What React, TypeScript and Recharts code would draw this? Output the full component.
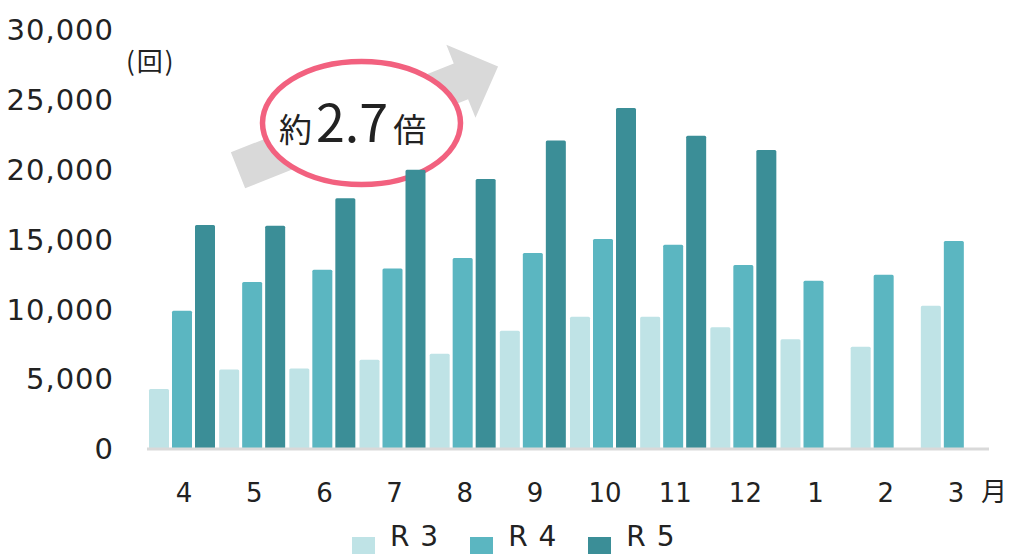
import React from 'react';
import { BarChart, Bar, XAxis, YAxis } from 'recharts';

const months = ['4', '5', '6', '7', '8', '9', '10', '11', '12', '1', '2', '3'];
const r3 = [4300, 5700, 5770, 6390, 6820, 8470, 9470, 9470, 8710, 7850, 7320, 10260];
const r4 = [9900, 11950, 12830, 12930, 13670, 14030, 15030, 14620, 13170, 12050, 12480, 14890];
const r5: (number | null)[] = [16040, 15980, 17950, 20000, 19340, 22090, 24410, 22430, 21400, null, null, null];
const yTicks = [0, 5000, 10000, 15000, 20000, 25000, 30000];
const seriesNames = ['R 3', 'R 4', 'R 5'];
const colors = ['#BFE3E6', '#5BB6C1', '#3B8E97'];

const data = months.map((m, i) => ({ month: m, R3: r3[i], R4: r4[i], R5: r5[i] }));

const TEXT = '#222222';
const FONT = "'DejaVu Sans', Verdana, sans-serif";
const JP = "'Noto Sans CJK JP', 'Noto Sans', sans-serif";

const XTick = (props: any) => {
  const { x, y, payload } = props;
  return (
    <text x={x + 2} y={y + 45} textAnchor="middle" fill={TEXT} fontFamily={FONT} fontSize={26}>
      {payload.value}
    </text>
  );
};

export default function App() {
  return (
    <div style={{ position: 'absolute', left: 0, top: 0, width: 1013, height: 554, background: '#fff', overflow: 'hidden' }}>
      <svg width={1013} height={554} style={{ position: 'absolute', left: 0, top: 0 }}>
        <g transform="translate(238,170.3) rotate(-21.75)">
          <polygon points="0,-19.3 240,-19.3 240,-39.3 280,0 240,39.3 240,19.3 0,19.3" fill="#D9D9D9" />
        </g>
        <ellipse cx={361.5} cy={123} rx={99} ry={61.5} fill="#fff" stroke="#F2617F" strokeWidth={5.5} />
        <text x={279} y={142} fill={TEXT} fontFamily={JP}>
          <tspan fontSize={33}>約</tspan>
          <tspan fontSize={52} dx={4}>2.7</tspan>
          <tspan fontSize={33} dx={5}>倍</tspan>
        </text>
        <text x={126} y={71} fill={TEXT} fontFamily={JP} fontSize={26} letterSpacing={2}>(回)</text>
      </svg>
      <div style={{ position: 'absolute', left: 0, top: 0 }}>
        <BarChart
          width={1013}
          height={554}
          data={data}
          margin={{ top: 30, right: 24, left: 0, bottom: 0 }}
          barSize={20}
          barGap={3}
        >
          <XAxis
            dataKey="month"
            height={105}
            interval={0}
            axisLine={{ stroke: '#D9D9D9', strokeWidth: 3 }}
            tickLine={false}
            tick={<XTick />}
          />
          <YAxis
            width={147}
            domain={[0, 30000]}
            ticks={yTicks}
            axisLine={false}
            tickLine={false}
            tickMargin={27}
            tickFormatter={(v: number) => v.toLocaleString('en-US')}
            tick={{ fill: TEXT, fontFamily: FONT, fontSize: 29, letterSpacing: 1 }}
          />
          <Bar dataKey="R3" fill={colors[0]} radius={[1.5, 1.5, 0, 0]} isAnimationActive={false} />
          <Bar dataKey="R4" fill={colors[1]} radius={[1.5, 1.5, 0, 0]} isAnimationActive={false} />
          <Bar dataKey="R5" fill={colors[2]} radius={[1.5, 1.5, 0, 0]} isAnimationActive={false} />
        </BarChart>
      </div>
      <svg width={1013} height={554} style={{ position: 'absolute', left: 0, top: 0, pointerEvents: 'none' }}>
        <text x={994} y={501} textAnchor="middle" fill={TEXT} fontFamily={JP} fontSize={26}>月</text>
      </svg>
      <div style={{ position: 'absolute', left: 352, top: 523, display: 'flex', alignItems: 'flex-start' }}>
        {seriesNames.map((name, i) => (
          <div key={name} style={{ display: 'flex', alignItems: 'flex-start', marginRight: 31 }}>
            <span style={{ display: 'inline-block', width: 23, height: 17, background: colors[i], marginTop: 14 }} />
            <span style={{ marginLeft: 15, fontFamily: FONT, fontSize: 28, lineHeight: '28px', letterSpacing: 1, color: TEXT }}>{name}</span>
          </div>
        ))}
      </div>
    </div>
  );
}
